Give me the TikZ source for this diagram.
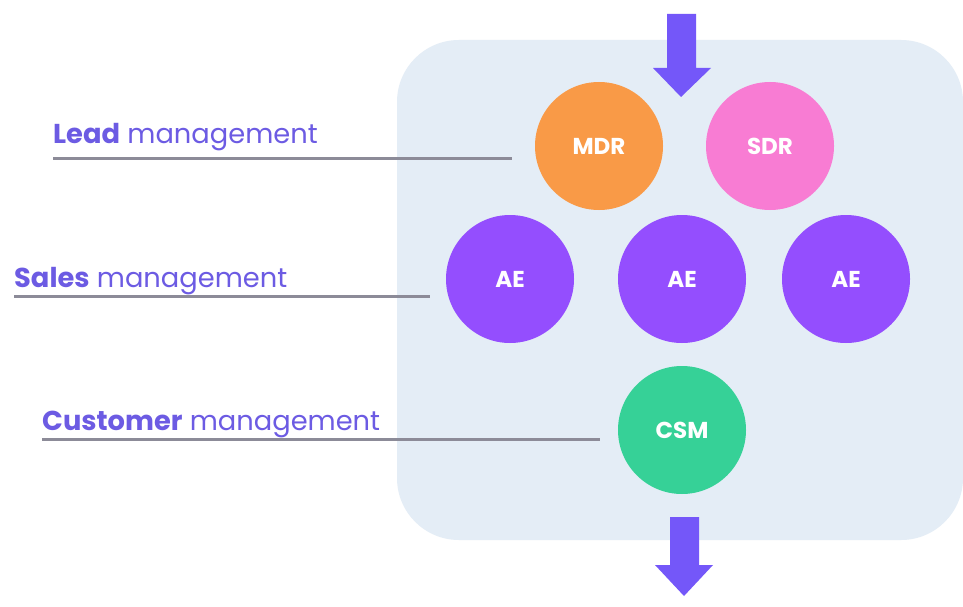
\documentclass[tikz,border=0pt]{standalone}
\usepackage{fontspec}
\setmainfont{Poppins}
\definecolor{panel}{HTML}{E4EDF6}
\definecolor{arrowc}{HTML}{7457F9}
\definecolor{txtc}{HTML}{6C5BE3}
\definecolor{linec}{HTML}{8C8B98}
\definecolor{mdrc}{HTML}{F99A47}
\definecolor{sdrc}{HTML}{F87CD3}
\definecolor{aec}{HTML}{944EFE}
\definecolor{csmc}{HTML}{36D197}
\tikzset{
  role/.style={circle, minimum size=128pt, inner sep=0pt, text=white, font=\fontsize{23}{26}\selectfont\bfseries},
  lbl/.style={anchor=base west, inner sep=0pt, text=txtc, font=\fontsize{27.3}{31}\selectfont},
  guide/.style={draw=linec, line width=3pt},
  flow/.style={fill=arrowc}
}
\begin{document}
\begin{tikzpicture}[x=1pt,y=-1pt]
\useasboundingbox (0,0) rectangle (963,607);
\fill[white] (0,0) rectangle (963,607);
\fill[panel, rounded corners=62pt] (397,40) rectangle (963,540);
% circles
\node[role, fill=mdrc] (mdr) at (599,146) {MDR};
\node[role, fill=sdrc] (sdr) at (770,146) {SDR};
\node[role, fill=aec] (ae1) at (510,279) {AE};
\node[role, fill=aec] (ae2) at (682,279) {AE};
\node[role, fill=aec] (ae3) at (846,279) {AE};
\node[role, fill=csmc] (csm) at (682,430) {CSM};
% arrows
\fill[flow] (667,14) -- (696,14) -- (696,68) -- (711,68) -- (681,97) -- (653,68) -- (667,68) -- cycle;
\fill[flow] (670,517) -- (699,517) -- (699,565) -- (713,565) -- (684,596) -- (655,565) -- (670,565) -- cycle;
% labels
\node[lbl] (lead) at (53,143) {\textbf{Lead} management};
\node[lbl] (sales) at (14,287) {\textbf{Sales} management};
\node[lbl] (cust) at (42,430) {\textbf{Customer} management};
% guide lines
\coordinate (leadL) at (53,158);
\coordinate (leadR) at (512,158);
\coordinate (salesL) at (14,296);
\coordinate (salesR) at (430,296);
\coordinate (custL) at (42,439);
\coordinate (custR) at (600,439);
\draw[guide] (leadL) -- (leadR);
\draw[guide] (salesL) -- (salesR);
\draw[guide] (custL) -- (custR);
\end{tikzpicture}
\end{document}
